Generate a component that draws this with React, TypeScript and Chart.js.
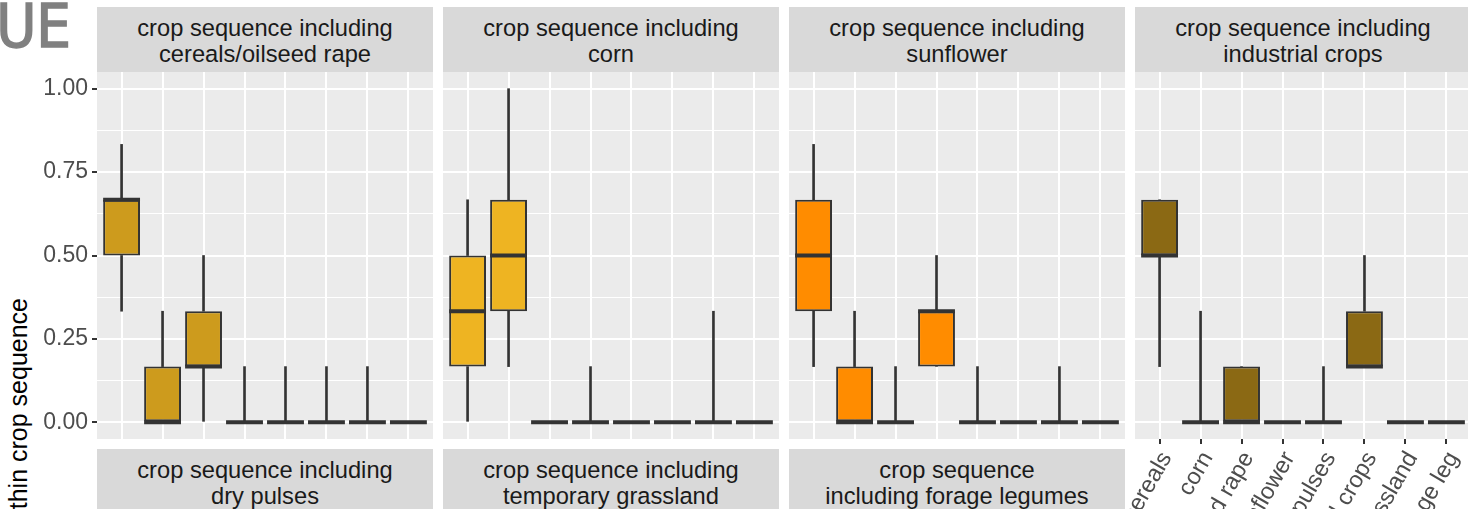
import React, { useEffect, useRef } from 'react';
import { Chart, registerables } from 'chart.js';

Chart.register(...registerables);

const categories = [
  'cereals',
  'corn',
  'oilseed rape',
  'sunflower',
  'dry pulses',
  'industrial crops',
  'temporary grassland',
  'forage leg',
];

const yTickValues = [0, 0.125, 0.25, 0.375, 0.5, 0.625, 0.75, 0.875, 1];
const yTickLabels = ['0.00', '', '0.25', '', '0.50', '', '0.75', '', '1.00'];

const stripTitlesTop = [
  ['crop sequence including', 'cereals/oilseed rape'],
  ['crop sequence including', 'corn'],
  ['crop sequence including', 'sunflower'],
  ['crop sequence including', 'industrial crops'],
];
const stripTitlesBottom = [
  ['crop sequence including', 'dry pulses'],
  ['crop sequence including', 'temporary grassland'],
  ['crop sequence', 'including forage legumes'],
];

// panel: crop sequence including cereals/oilseed rape
const cerealsMin = [0.333, 0, 0, 0, 0, 0, 0, 0];
const cerealsQ1 = [0.5, 0, 0.167, 0, 0, 0, 0, 0];
const cerealsMed = [0.667, 0, 0.167, 0, 0, 0, 0, 0];
const cerealsQ3 = [0.667, 0.167, 0.333, 0, 0, 0, 0, 0];
const cerealsMax = [0.833, 0.333, 0.5, 0.167, 0.167, 0.167, 0.167, 0];

// panel: crop sequence including corn
const cornMin = [0, 0.167, 0, 0, 0, 0, 0, 0];
const cornQ1 = [0.167, 0.333, 0, 0, 0, 0, 0, 0];
const cornMed = [0.333, 0.5, 0, 0, 0, 0, 0, 0];
const cornQ3 = [0.5, 0.667, 0, 0, 0, 0, 0, 0];
const cornMax = [0.667, 1, 0, 0.167, 0, 0, 0.333, 0];

// panel: crop sequence including sunflower
const sunflowerMin = [0.167, 0, 0, 0.167, 0, 0, 0, 0];
const sunflowerQ1 = [0.333, 0, 0, 0.167, 0, 0, 0, 0];
const sunflowerMed = [0.5, 0, 0, 0.333, 0, 0, 0, 0];
const sunflowerQ3 = [0.667, 0.167, 0, 0.333, 0, 0, 0, 0];
const sunflowerMax = [0.833, 0.333, 0.167, 0.5, 0.167, 0, 0.167, 0];

// panel: crop sequence including industrial crops
const industrialMin = [0.167, 0, 0, 0, 0, 0.167, 0, 0];
const industrialQ1 = [0.5, 0, 0, 0, 0, 0.167, 0, 0];
const industrialMed = [0.5, 0, 0, 0, 0, 0.167, 0, 0];
const industrialQ3 = [0.667, 0, 0.167, 0, 0, 0.333, 0, 0];
const industrialMax = [0.667, 0.333, 0.167, 0, 0.167, 0.5, 0, 0];

const FONT = "'Liberation Sans', Arial, Helvetica, sans-serif";
const PANEL_LEFTS = [97, 443, 789, 1135];
const PANEL_W = 336;
const PLOT_TOP = 72;
const PLOT_H = 367;
const STRIP_H = 65;

type Spec = {
  min: number[];
  q1: number[];
  med: number[];
  q3: number[];
  max: number[];
  fill: string;
  showY: boolean;
  showX: boolean;
  canvasLeft: number;
  canvasWidth: number;
  yAxisWidth: number;
  xAxisHeight: number;
};

const isMajor = (v: number) => Math.abs(v * 4 - Math.round(v * 4)) < 1e-6;

function BoxPanel({ spec }: { spec: Spec }) {
  const ref = useRef<HTMLCanvasElement>(null);
  const canvasHeight = PLOT_H + spec.xAxisHeight;
  useEffect(() => {
    const canvas = ref.current;
    if (!canvas) return;
    const pts = (a: number[], b: number[]) =>
      categories.map((_, i) => ({ x: i + 1, y: [a[i], b[i]] }));

    const bgPlugin = {
      id: 'panelBg',
      beforeDraw(chart: any) {
        const { ctx, chartArea } = chart;
        ctx.save();
        ctx.fillStyle = '#EBEBEB';
        ctx.fillRect(chartArea.left, chartArea.top, chartArea.right - chartArea.left, chartArea.bottom - chartArea.top);
        ctx.restore();
      },
    };
    const medianPlugin = {
      id: 'medians',
      afterDatasetsDraw(chart: any) {
        const meta = chart.getDatasetMeta(0);
        const ys = chart.scales.y;
        const { ctx, chartArea } = chart;
        ctx.save();
        ctx.beginPath();
        ctx.rect(chartArea.left, chartArea.top, chartArea.right - chartArea.left, chartArea.bottom - chartArea.top);
        ctx.clip();
        ctx.strokeStyle = '#333333';
        ctx.lineWidth = 4;
        ctx.lineCap = 'butt';
        ctx.beginPath();
        spec.med.forEach((v, i) => {
          const el = meta.data[i];
          const y = ys.getPixelForValue(v);
          ctx.moveTo(el.x - el.width / 2, y);
          ctx.lineTo(el.x + el.width / 2, y);
        });
        ctx.stroke();
        ctx.restore();
      },
    };

    const chart = new Chart(canvas, {
      type: 'bar',
      data: {
        datasets: [
          {
            data: pts(spec.q1, spec.q3) as any,
            backgroundColor: spec.fill,
            borderColor: '#333333',
            borderWidth: 2,
            borderSkipped: false,
            barPercentage: 0.9,
            categoryPercentage: 1,
            grouped: false,
            order: 0,
          } as any,
          {
            data: pts(spec.min, spec.q1) as any,
            backgroundColor: '#333333',
            borderWidth: 0,
            barThickness: 2,
            grouped: false,
            order: 1,
          } as any,
          {
            data: pts(spec.q3, spec.max) as any,
            backgroundColor: '#333333',
            borderWidth: 0,
            barThickness: 2,
            grouped: false,
            order: 1,
          } as any,
        ],
      },
      options: {
        responsive: false,
        maintainAspectRatio: false,
        animation: false,
        events: [],
        layout: { padding: 0 },
        plugins: { legend: { display: false }, tooltip: { enabled: false } },
        scales: {
          x: {
            type: 'linear',
            min: 0.4,
            max: 8.6,
            offset: false,
            afterBuildTicks: (axis: any) => {
              axis.ticks = categories.map((_, i) => ({ value: i + 1 }));
            },
            afterFit: (s: any) => {
              s.height = spec.xAxisHeight;
              s.paddingLeft = 0;
              s.paddingRight = 0;
            },
            border: { display: false },
            grid: {
              offset: false,
              color: '#FFFFFF',
              lineWidth: 2,
              drawTicks: spec.showX,
              tickLength: 5,
              tickColor: '#333333',
              tickWidth: 2,
            },
            ticks: {
              display: spec.showX,
              autoSkip: false,
              minRotation: 60,
              maxRotation: 60,
              padding: 3,
              labelOffset: 7,
              color: '#4D4D4D',
              font: { family: FONT, size: 23.5 },
              callback: (v: any) => categories[Math.round(Number(v)) - 1],
            },
          },
          y: {
            type: 'linear',
            min: -0.05,
            max: 1.05,
            afterBuildTicks: (axis: any) => {
              axis.ticks = yTickValues.map((v) => ({ value: v }));
            },
            afterFit: (s: any) => {
              s.width = spec.yAxisWidth;
              s.paddingTop = 0;
              s.paddingBottom = 0;
            },
            border: { display: false },
            grid: {
              color: '#FFFFFF',
              lineWidth: (c: any) => (isMajor(c.tick.value) ? 2 : 1),
              drawTicks: spec.showY,
              tickLength: 5,
              tickWidth: 2,
              tickColor: (c: any) => (isMajor(c.tick.value) ? '#333333' : 'rgba(0,0,0,0)'),
            },
            ticks: {
              display: spec.showY,
              autoSkip: false,
              padding: 4,
              color: '#4D4D4D',
              font: { family: FONT, size: 23 },
              callback: (_v: any, i: number) => yTickLabels[i],
            },
          },
        },
      } as any,
      plugins: [bgPlugin, medianPlugin],
    });
    return () => chart.destroy();
  }, [spec]);
  return (
    <canvas
      ref={ref}
      width={spec.canvasWidth}
      height={canvasHeight}
      style={{
        position: 'absolute',
        left: spec.canvasLeft,
        top: PLOT_TOP,
        width: spec.canvasWidth,
        height: canvasHeight,
      }}
    />
  );
}

const specs: Spec[] = [
  {
    min: cerealsMin, q1: cerealsQ1, med: cerealsMed, q3: cerealsQ3, max: cerealsMax,
    fill: '#CD9B1D', showY: true, showX: false,
    canvasLeft: 0, canvasWidth: PANEL_LEFTS[0] + PANEL_W, yAxisWidth: PANEL_LEFTS[0], xAxisHeight: 0,
  },
  {
    min: cornMin, q1: cornQ1, med: cornMed, q3: cornQ3, max: cornMax,
    fill: '#EEB422', showY: false, showX: false,
    canvasLeft: PANEL_LEFTS[1], canvasWidth: PANEL_W, yAxisWidth: 0, xAxisHeight: 0,
  },
  {
    min: sunflowerMin, q1: sunflowerQ1, med: sunflowerMed, q3: sunflowerQ3, max: sunflowerMax,
    fill: '#FF8C00', showY: false, showX: false,
    canvasLeft: PANEL_LEFTS[2], canvasWidth: PANEL_W, yAxisWidth: 0, xAxisHeight: 0,
  },
  {
    min: industrialMin, q1: industrialQ1, med: industrialMed, q3: industrialQ3, max: industrialMax,
    fill: '#8B6914', showY: false, showX: true,
    canvasLeft: PANEL_LEFTS[3] - 60, canvasWidth: PANEL_W + 60, yAxisWidth: 60, xAxisHeight: 150,
  },
];

function Strip({ left, top, lines }: { left: number; top: number; lines: string[] }) {
  return (
    <div
      style={{
        position: 'absolute',
        left,
        top,
        width: PANEL_W,
        height: STRIP_H,
        background: '#D9D9D9',
        color: '#1A1A1A',
        fontFamily: FONT,
        fontSize: 23.7,
        lineHeight: '26px',
        textAlign: 'center',
        boxSizing: 'border-box',
        paddingTop: 8,
        whiteSpace: 'nowrap',
      }}
    >
      {lines.map((l, i) => (
        <div key={i}>{l}</div>
      ))}
    </div>
  );
}

export default function App() {
  return (
    <div
      style={{
        position: 'fixed',
        left: 0,
        top: 0,
        width: 1468,
        height: 509,
        overflow: 'hidden',
        background: '#FFFFFF',
      }}
    >
      <div
        style={{
          position: 'absolute',
          right: 1468 - 71,
          top: -5,
          fontFamily: "'DejaVu Sans Condensed', 'DejaVu Sans', sans-serif",
          fontStretch: 'condensed',
          fontWeight: 'normal',
          fontSize: 61,
          lineHeight: '62px',
          color: '#808080',
          WebkitTextStroke: '1.5px #808080',
          whiteSpace: 'nowrap',
        }}
      >
        UE
      </div>
      <div
        style={{
          position: 'absolute',
          left: 5.5,
          top: 298,
          transformOrigin: '0 0',
          transform: 'rotate(-90deg) translateX(-100%)',
          fontFamily: FONT,
          fontSize: 25,
          lineHeight: '25px',
          color: '#000000',
          whiteSpace: 'nowrap',
        }}
      >
        proportion within crop sequence
      </div>
      {stripTitlesTop.map((lines, i) => (
        <Strip key={'t' + i} left={PANEL_LEFTS[i]} top={7} lines={lines} />
      ))}
      {stripTitlesBottom.map((lines, i) => (
        <Strip key={'b' + i} left={PANEL_LEFTS[i]} top={449} lines={lines} />
      ))}
      {specs.map((s, i) => (
        <BoxPanel key={i} spec={s} />
      ))}
    </div>
  );
}
